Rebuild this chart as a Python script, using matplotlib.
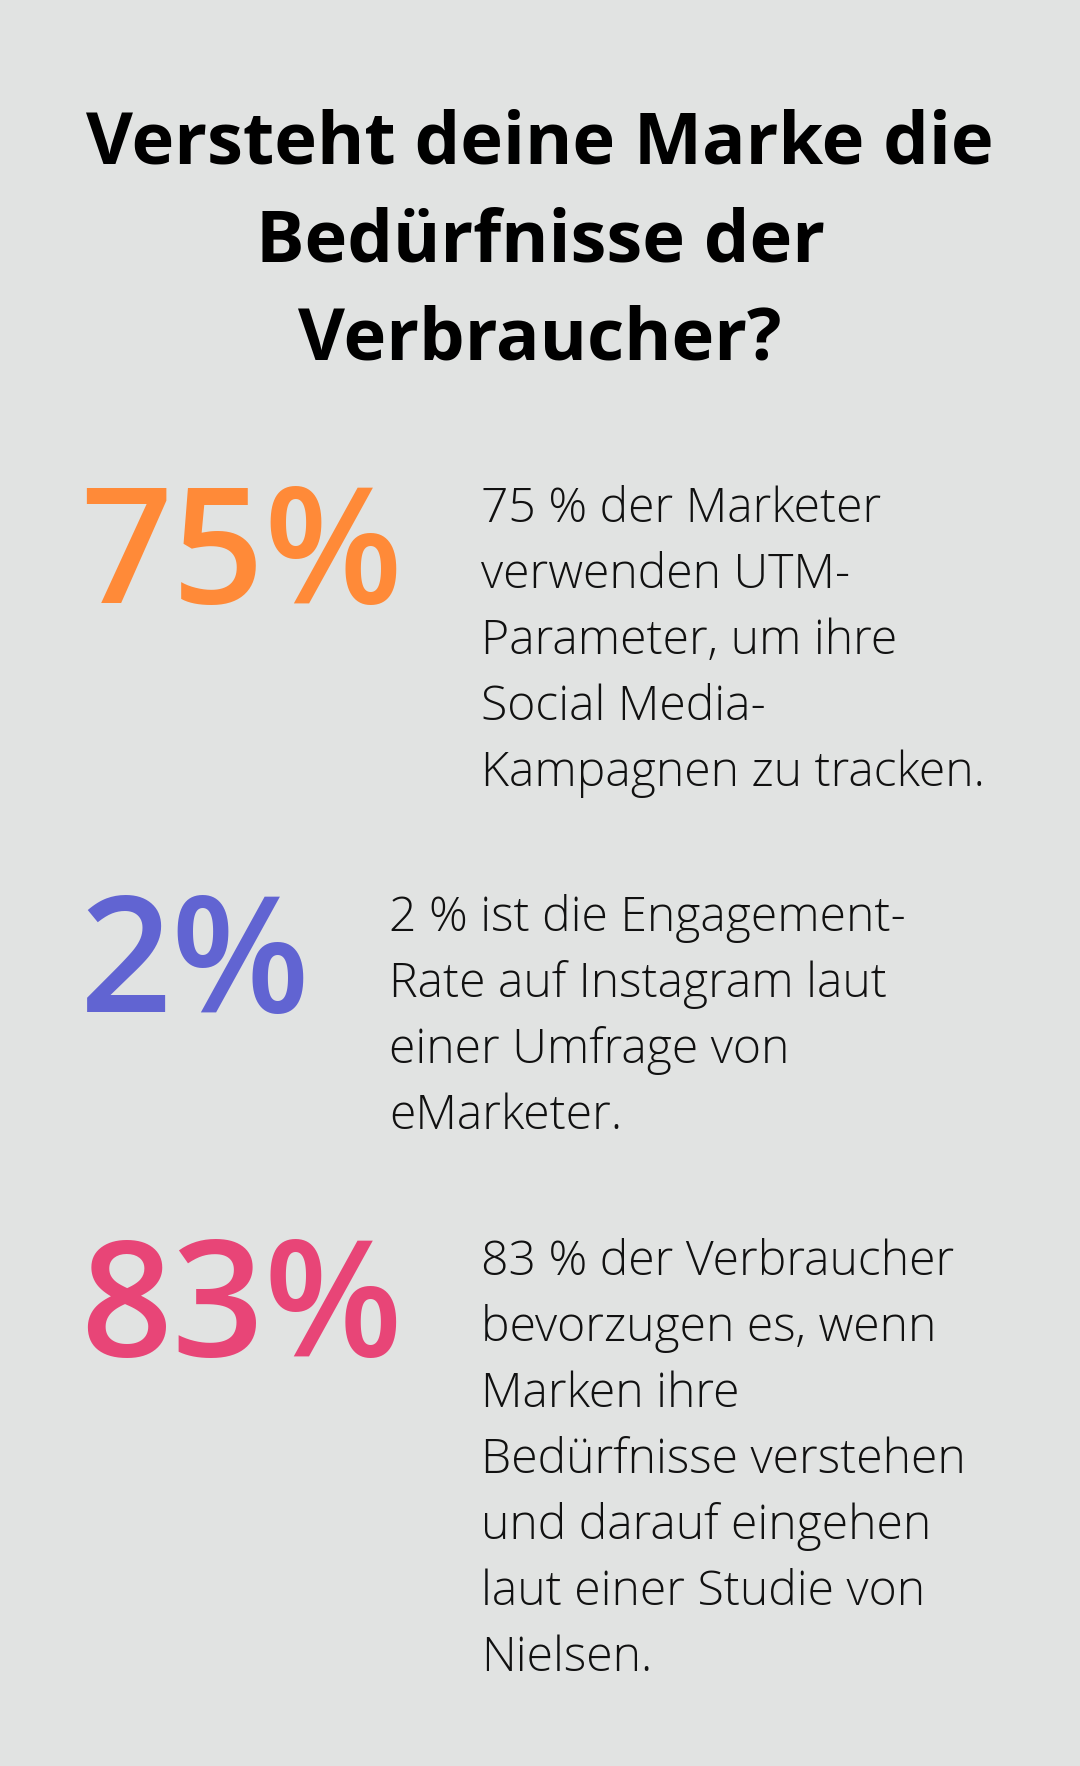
import matplotlib
matplotlib.use("Agg")
import matplotlib.pyplot as plt

title_lines = ["Versteht deine Marke die", "Bedürfnisse der", "Verbraucher?"]
values = [75, 2, 83]
colors = ["#FF8A38", "#6164D2", "#E84577"]
descriptions = [
    ["75 % der Marketer", "verwenden UTM-", "Parameter, um ihre", "Social Media-",
     "Kampagnen zu tracken."],
    ["2 % ist die Engagement-", "Rate auf Instagram laut", "einer Umfrage von",
     "eMarketer."],
    ["83 % der Verbraucher", "bevorzugen es, wenn", "Marken ihre",
     "Bedürfnisse verstehen", "und darauf eingehen", "laut einer Studie von",
     "Nielsen."],
]

bg = "#E1E3E2"
W, H = 1080, 1766
fig = plt.figure(figsize=(W / 100, H / 100), dpi=100, facecolor=bg)
ax = fig.add_axes([0, 0, 1, 1])
ax.set_xlim(0, W)
ax.set_ylim(H, 0)
ax.axis("off")

# title
for i, line in enumerate(title_lines):
    ax.text(540, 164 + i * 98, line, ha="center", va="baseline",
            fontsize=52, fontweight="bold", family="Open Sans", color="black")

# stat blocks: number baseline, text x
num_base = [603, 1012, 1356]
text_x = [481, 389, 481]
for v, c, desc, yb, tx in zip(values, colors, descriptions, num_base, text_x):
    ax.text(80, yb, f"{v}%", ha="left", va="baseline", fontsize=116,
            fontweight="semibold", family="Open Sans", color=c)
    for j, line in enumerate(desc):
        ax.text(tx, yb - 81 + j * 66, line, ha="left", va="baseline",
                fontsize=34.7, fontweight="light", family="Open Sans", color="#111111")

fig.savefig("out.png", dpi=100, facecolor=bg)
